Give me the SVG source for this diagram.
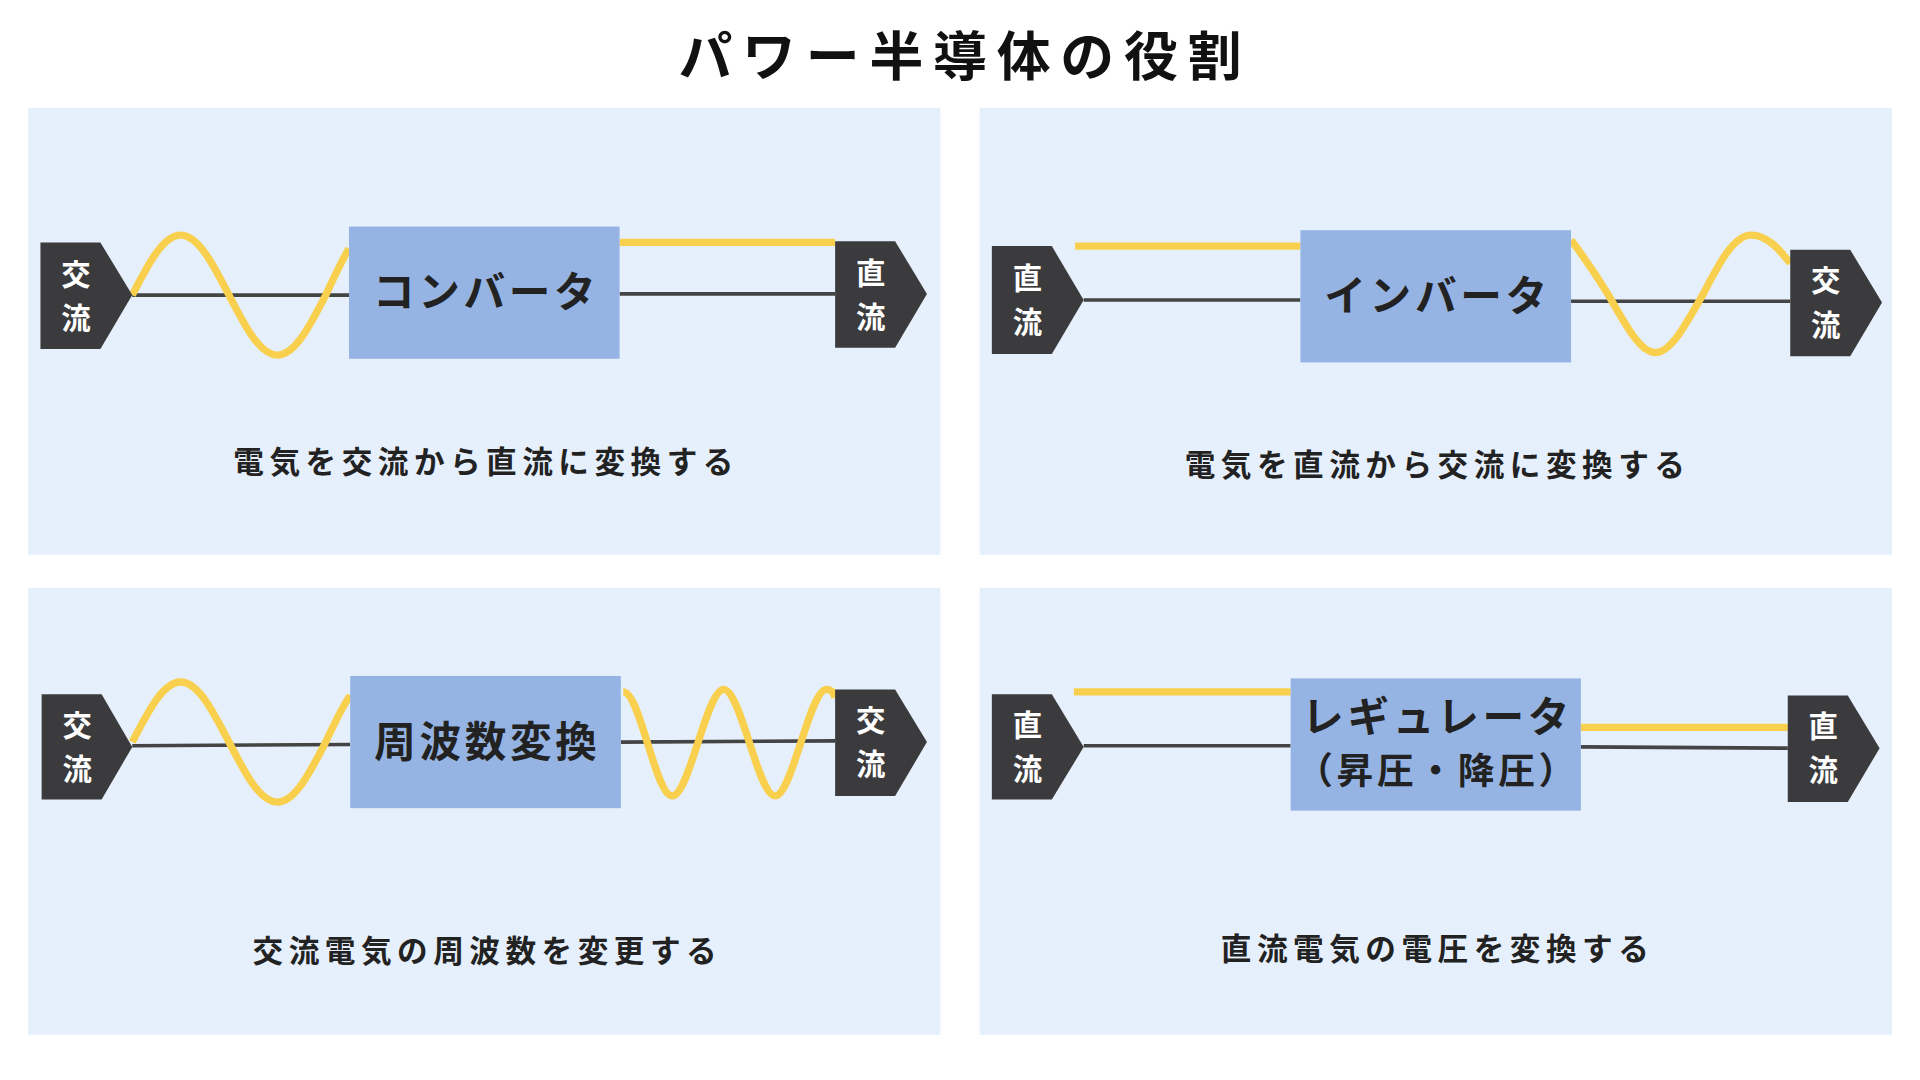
<svg xmlns="http://www.w3.org/2000/svg" width="1920" height="1080" viewBox="0 0 1920 1080">
<style>
.panel{fill:#E6F0FC}
.box{fill:#95B4E3}
.arr{fill:#3B3B3D}
.wire{stroke:#444;stroke-width:3;fill:none}
.wave{stroke:#F9D04E;stroke-width:6;fill:none}
text{font-family:"Noto Sans CJK JP","Noto Sans",sans-serif;text-anchor:middle}
.at{fill:#fff;font-size:24px;font-weight:bold}
.bt{fill:#222;font-size:34px;font-weight:bold;letter-spacing:3px}
.cap{fill:#222;font-size:25px;font-weight:bold;letter-spacing:4.5px}
</style>
<rect width="1920" height="1080" fill="#fff"/>
<g transform="scale(1.2245)">
<text x="788" y="62" style="font-size:44px;font-weight:bold;fill:#111;letter-spacing:8px">パワー半導体の役割</text>
<rect class="panel" x="23" y="88" width="745" height="365"/>
<rect class="panel" x="800" y="88" width="745" height="365"/>
<rect class="panel" x="23" y="480" width="745" height="365"/>
<rect class="panel" x="800" y="480" width="745" height="365"/>
<g id="connectors">
<path class="wire" d="M108,241 L285,241 M506,240 L682,240"/>
<path class="wave" d="M108,241 C120.9,215.9 133.2,192 147.5,192 C161.8,192 174.1,215.9 187,241 C199.9,266.1 212.2,290 226.5,290 C240.8,290 253.1,266.1 266,241 C272,228 279,213 285,203"/>
<path class="wave" d="M506,198 L682,198"/>
<path class="wire" d="M885,245 L1062,245 M1283,246 L1462,246"/>
<path class="wave" d="M878,201 L1062,201"/>
<path class="wave" d="M1283,196 C1292,208 1302,222 1313,240 C1327.1,264.6 1339.3,288 1352,288 C1364.7,288 1376.9,264.6 1391,240 C1403.7,215.4 1415.9,192 1430,192 C1444,192 1454,205 1462,215"/>
<path class="wire" d="M108,609 L286,608 M507,606 L682,605"/>
<path class="wave" d="M108,606 C120.9,580.9 133.2,557 147.5,557 C161.8,557 174.1,580.9 187,606 C199.9,631.1 212.2,655 226.5,655 C240.8,655 253.1,631.1 266,606 C272,593 279,578 286,568"/>
<path class="wave" d="M509,565 C523,565 535,650 549,650 C563,650 577,563 591,563 C605,563 619,650 633,650 C647,650 661,563 675,563 C679,563 681,566 682,570"/>
<path class="wire" d="M885,609 L1054,609 M1291,610 L1460,611"/>
<path class="wave" d="M877,565 L1054,565 M1291,594 L1460,594"/>
</g>
<g id="n1in"><path class="arr" d="M33,198 H82 L108,241 L82,285 H33 Z"/><text class="at" x="62" y="233">交</text><text class="at" x="62" y="269">流</text></g>
<g id="n1box"><rect class="box" x="285" y="185" width="221" height="108"/><text class="bt" x="397" y="251">コンバータ</text></g>
<g id="n1out"><path class="arr" d="M682,197 H731 L757,240 L731,284 H682 Z"/><text class="at" x="711" y="232">直</text><text class="at" x="711" y="268">流</text></g>
<text class="cap" x="397" y="386">電気を交流から直流に変換する</text>
<g id="n2in"><path class="arr" d="M810,201 H859 L885,245 L859,289 H810 Z"/><text class="at" x="839" y="236">直</text><text class="at" x="839" y="272">流</text></g>
<g id="n2box"><rect class="box" x="1062" y="188" width="221" height="108"/><text class="bt" x="1174" y="254">インバータ</text></g>
<g id="n2out"><path class="arr" d="M1462,204 H1511 L1537,247 L1511,291 H1462 Z"/><text class="at" x="1491" y="238">交</text><text class="at" x="1491" y="274">流</text></g>
<text class="cap" x="1174" y="389">電気を直流から交流に変換する</text>
<g id="n3in"><path class="arr" d="M34,567 H83 L108,610 L83,653 H34 Z"/><text class="at" x="63" y="601">交</text><text class="at" x="63" y="637">流</text></g>
<g id="n3box"><rect class="box" x="286" y="552" width="221" height="108"/><text class="bt" x="398" y="618">周波数変換</text></g>
<g id="n3out"><path class="arr" d="M682,563 H731 L757,606 L731,650 H682 Z"/><text class="at" x="711" y="597">交</text><text class="at" x="711" y="633">流</text></g>
<text class="cap" x="398" y="786">交流電気の周波数を変更する</text>
<g id="n4in"><path class="arr" d="M810,567 H859 L885,610 L859,653 H810 Z"/><text class="at" x="839" y="601">直</text><text class="at" x="839" y="637">流</text></g>
<g id="n4box"><rect class="box" x="1054" y="554" width="237" height="108"/><text class="bt" x="1174" y="598">レギュレータ</text><text class="bt" x="1174" y="640" style="font-size:30px">（昇圧・降圧）</text></g>
<g id="n4out"><path class="arr" d="M1460,568 H1509 L1535,611 L1509,655 H1460 Z"/><text class="at" x="1489" y="602">直</text><text class="at" x="1489" y="638">流</text></g>
<text class="cap" x="1174" y="784">直流電気の電圧を変換する</text>
</g>
</svg>
